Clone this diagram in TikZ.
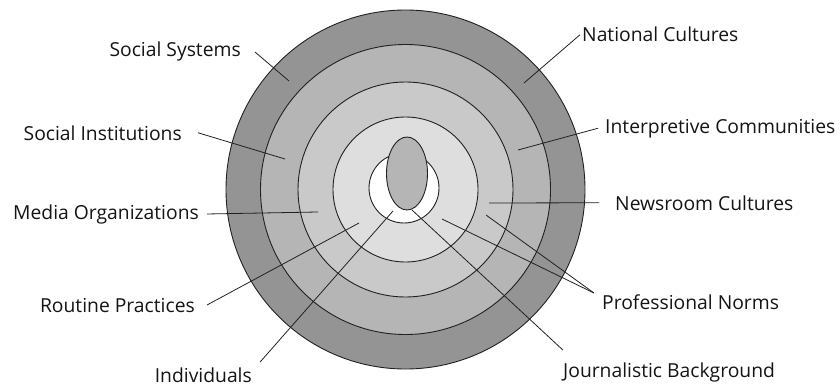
\documentclass[tikz,border=0pt]{standalone}
\usepackage{fontspec}
\setmainfont{Open Sans}
\usepackage{xcolor}
\usetikzlibrary{positioning}

\definecolor{ringA}{gray}{0.58}
\definecolor{ringB}{gray}{0.71}
\definecolor{ringC}{gray}{0.79}
\definecolor{ringD}{gray}{0.87}
\definecolor{inkgray}{gray}{0.13}

\begin{document}
\begin{tikzpicture}
      [ x=1pt, y=-1pt,
        lbl/.style={font=\fontsize{19.3}{23}\selectfont, text=black!92, inner sep=5pt},
        ring/.style={draw=inkgray, line width=0.9pt},
        leader/.style={draw=inkgray, line width=0.8pt}
      ]
      \useasboundingbox (0,0) rectangle (840,385);

      % the rings, outside in
      \coordinate (c) at (405.5,189.5);
      \filldraw[ring, fill=ringA] (c) circle [radius=179.5pt];
      \filldraw[ring, fill=ringB] (c) circle [radius=145pt];
      \filldraw[ring, fill=ringC] (c) circle [radius=107.5pt];
      \filldraw[ring, fill=ringD] (c) circle [radius=72.5pt];
      \filldraw[ring, fill=white] (404,188) circle [radius=35pt];
      \filldraw[ring, fill=ringB] (407,173.5) ellipse [x radius=20.5pt, y radius=36.5pt];

      % labels
      \node[lbl, anchor=base east, inner xsep=14pt]  (ss) at (255,57)  {Social Systems};
      \node[lbl, anchor=base east, inner xsep=16pt]  (si) at (198,140) {Social Institutions};
      \node[lbl, anchor=base east, inner xsep=8pt]   (mo) at (207,219) {Media Organizations};
      \node[lbl, anchor=base east, inner xsep=12pt]  (rp) at (207,312) {Routine Practices};
      \node[lbl, anchor=base east, inner xsep=8pt, inner ysep=5pt] (ind) at (260,382) {Individuals};
      \node[lbl, anchor=base west, inner xsep=2pt]   (nc) at (580,42)  {National Cultures};
      \node[lbl, anchor=base west, inner xsep=7pt]   (ic) at (598,133) {Interpretive Communities};
      \node[lbl, anchor=base west, inner xsep=16pt]  (nr) at (599,210) {Newsroom Cultures};
      \node[lbl, anchor=base west, inner xsep=8pt, inner ysep=1pt] (pn) at (594,309) {Professional Norms};
      \node[lbl, anchor=base west, inner xsep=0pt, inner ysep=12pt] (jb) at (563,377) {Journalistic Background};

      % where the leaders end
      \coordinate (ssIn) at (289,81);
      \coordinate (siIn) at (285,159);
      \coordinate (moIn) at (318,212);
      \coordinate (rpIn) at (359,223);
      \coordinate (indIn) at (393,211);
      \coordinate (ncIn) at (524,83);
      \coordinate (icIn) at (518,150);
      \coordinate (nrIn) at (489,203);
      \coordinate (pnIn) at (486,215);
      \coordinate (pnIn2) at (442,219);
      \coordinate (jbIn) at (412,210);

      \draw[leader] (ss.east)        -- (ssIn);
      \draw[leader] (si.east)        -- (siIn);
      \draw[leader] (mo.east)        -- (moIn);
      \draw[leader] (rp.east)        -- (rpIn);
      \draw[leader] (ind.north east) -- (indIn);
      \draw[leader] (nc.west)        -- (ncIn);
      \draw[leader] (ic.west)        -- (icIn);
      \draw[leader] (nr.west)        -- (nrIn);
      \draw[leader] (pn.north west)  -- (pnIn);
      \draw[leader] (pn.north west)  -- (pnIn2);
      \draw[leader] (jb.north west)  -- (jbIn);
    \end{tikzpicture}
\end{document}
